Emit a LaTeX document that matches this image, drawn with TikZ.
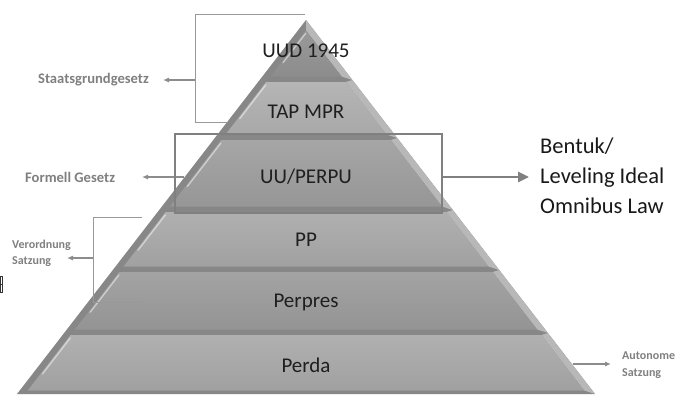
\documentclass[tikz,border=0pt]{standalone}
\usepackage{fontspec}
\setmainfont{Carlito}
\usetikzlibrary{arrows.meta}
% one pyramid layer: #1 top y, #2 bottom y, #3 face top colour, #4 face bottom colour
\newcommand\pyrlayer[4]{%
  \pgfmathsetmacro\pyTa{#1}%
  \pgfmathsetmacro\pyBa{#2}%
  \pgfmathsetmacro\pyTb{max(#1+2,20+8/0.7727)}%
  \pgfmathsetmacro\pyBb{#2-3.5}%
  \pgfmathsetmacro\pxLTa{306-0.7727*(\pyTa-20)}%
  \pgfmathsetmacro\pxRTa{306+0.7727*(\pyTa-20)}%
  \pgfmathsetmacro\pxLBa{306-0.7727*(\pyBa-20)}%
  \pgfmathsetmacro\pxRBa{306+0.7727*(\pyBa-20)}%
  \pgfmathsetmacro\pxLTb{306-0.7727*(\pyTb-20)+8}%
  \pgfmathsetmacro\pxRTb{306+0.7727*(\pyTb-20)-8}%
  \pgfmathsetmacro\pxLBb{306-0.7727*(\pyBb-20)+8}%
  \pgfmathsetmacro\pxRBb{306+0.7727*(\pyBb-20)-8}%
  \pgfmathsetmacro\pyHa{\pyTb+3}%
  \pgfmathsetmacro\pyHb{\pyTb+0.7*(\pyBb-\pyTb)}%
  \pgfmathsetmacro\pxHa{306-0.7727*(\pyHa-20)+10}%
  \pgfmathsetmacro\pxHb{306-0.7727*(\pyHb-20)+10}%
  \fill[edgegray] (\pxLTa,\pyTa) -- (\pxRTa,\pyTa) -- (\pxRBa,\pyBa) -- (\pxLBa,\pyBa) -- cycle;
  \fill[bevlight] (\pxRTa,\pyTa) -- (\pxRBa,\pyBa) -- (\pxRBb,\pyBb) -- (\pxRTb,\pyTb) -- cycle;
  \shade[top color=#3,bottom color=#4] (\pxLTb,\pyTb) -- (\pxRTb,\pyTb) -- (\pxRBb,\pyBb) -- (\pxLBb,\pyBb) -- cycle;
  \draw[white,opacity=0.5,line width=1.3pt,line cap=round] (\pxHa,\pyHa) -- (\pxHb,\pyHb);
}
\begin{document}
\begin{tikzpicture}[x=1pt,y=-1pt,
  lbl/.style={font=\fontsize{21}{24}\selectfont, text=black!88, inner sep=0, anchor=base},
  side/.style={font=\bfseries\fontsize{14.6}{17}\selectfont, text=black!50, inner sep=0},
  sidesm/.style={font=\bfseries\fontsize{12}{16}\selectfont, text=black!50, inner sep=0, anchor=base west},
  bigtext/.style={font=\fontsize{22.5}{27}\selectfont, text=black!90, inner sep=0, anchor=base west},
  thinline/.style={draw=black!40, line width=0.9pt},
  thinarrow/.style={draw=black!45, line width=1.1pt, -{Latex[length=6pt,width=5pt]}},
  bigarrow/.style={draw=black!50, line width=2.6pt, -{Triangle[length=11pt,width=10pt]}},
  uubox/.style={draw=black!50, line width=2.4pt},
]
\colorlet{edgegray}{black!47}
\colorlet{bevlight}{black!28}
\useasboundingbox (0,0) rectangle (676,397);
\fill[white] (0,0) rectangle (676,397);

% pyramid layers
\pyrlayer{20}{80}{black!40}{black!45}
\pyrlayer{80}{138}{black!29}{black!34}
\pyrlayer{138}{210}{black!35}{black!41}
\pyrlayer{210}{270}{black!31}{black!37}
\pyrlayer{270}{333}{black!36}{black!42}
\pyrlayer{333}{394}{black!31}{black!37}

% layer labels
\node[lbl] (uud) at (306,57) {UUD 1945};
\node[lbl] (tap) at (306,118) {TAP MPR};
\node[lbl] (uu) at (306,183) {UU/PERPU};
\node[lbl] (pp) at (306,246) {PP};
\node[lbl] (perpres) at (306,307) {Perpres};
\node[lbl] (perda) at (306,372) {Perda};

% Staatsgrundgesetz bracket
\coordinate (sgA) at (305,14);
\coordinate (sgB) at (195,14);
\coordinate (sgC) at (195,122);
\coordinate (sgD) at (228,122);
\coordinate (sgM) at (195,80);
\draw[thinline] (sgA) -- (sgB) -- (sgC) -- (sgD);
\node[side, anchor=east] (sg) at (149,80) {Staatsgrundgesetz};
\coordinate (sgT) at (163,80);
\draw[thinarrow] (sgM) -- (sgT);

% Formell Gesetz
\node[side, anchor=west] (fg) at (25,177) {Formell Gesetz};
\coordinate (fgS) at (184,177);
\coordinate (fgT) at (142,177);
\draw[thinarrow] (fgS) -- (fgT);

% UU/PERPU box and arrow
\node[uubox, minimum width=267pt, minimum height=79pt, inner sep=0] (box) at (308.5,173.5) {};
\coordinate (bxT) at (529,177);
\coordinate (bxS) at (443,177);
\draw[bigarrow] (bxS) -- (bxT);
\node[bigtext] (bt1) at (540,153) {Bentuk/};
\node[bigtext] (bt2) at (540,183) {Leveling Ideal};
\node[bigtext] (bt3) at (540,213) {Omnibus Law};

% Verordnung Satzung bracket
\coordinate (vsA) at (142,217);
\coordinate (vsB) at (93,217);
\coordinate (vsC) at (93,302);
\coordinate (vsD) at (143,302);
\coordinate (vsM) at (93,258);
\coordinate (vsT) at (67,258);
\draw[thinline] (vsA) -- (vsB) -- (vsC) -- (vsD);
\draw[thinarrow] (vsM) -- (vsT);
\node[sidesm] (vs1) at (12,248) {Verordnung};
\node[sidesm] (vs2) at (12,264) {Satzung};

% Autonome Satzung
\coordinate (asS) at (573,364);
\coordinate (asT) at (611,364);
\draw[thinarrow] (asS) -- (asT);
\node[sidesm] (as1) at (622,359) {Autonome};
\node[sidesm] (as2) at (622,376) {Satzung};

% small box fragment at the left edge
\draw[black!80, line width=0.7pt] (0,276) rectangle (2.5,292);
\draw[black!80, line width=0.6pt] (0,284) -- (2.5,284);
\end{tikzpicture}
\end{document}
